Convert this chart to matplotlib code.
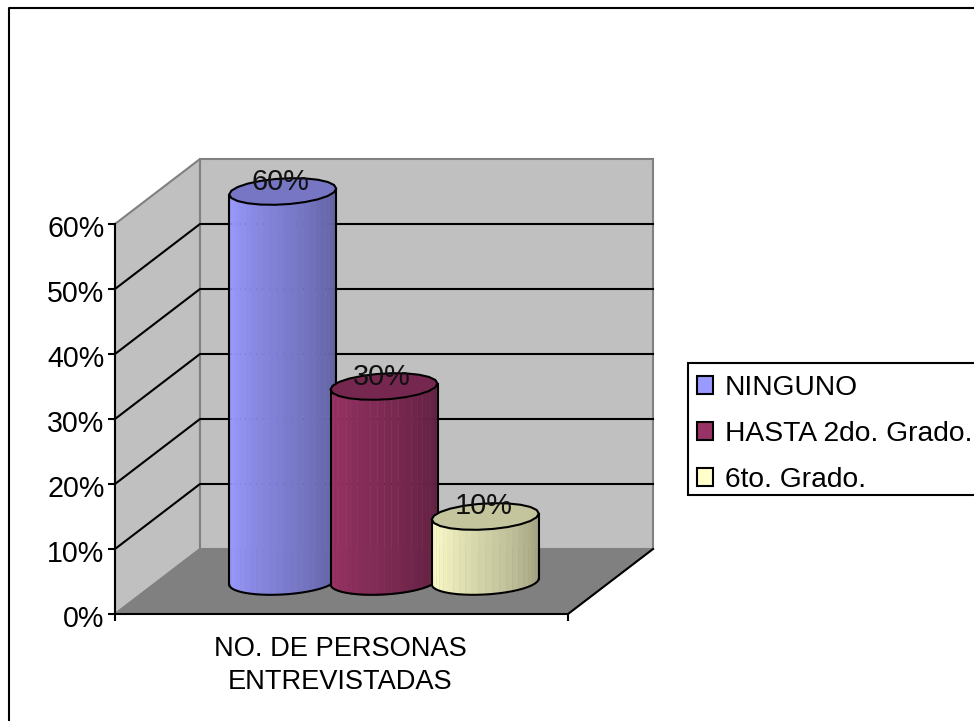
import numpy as np
import matplotlib
matplotlib.use("Agg")
import matplotlib.pyplot as plt
from matplotlib.lines import Line2D
from matplotlib.patches import Patch, Polygon, Rectangle
from matplotlib.transforms import ScaledTranslation

plt.rcParams['font.family'] = ['Liberation Sans', 'DejaVu Sans']

series = ['NINGUNO', 'HASTA 2do. Grado.', '6to. Grado.']
values = [0.60, 0.30, 0.10]
value_labels = ['60%', '30%', '10%']
colors = ['#9999FF', '#993366', '#FFFFCC']
category = 'NO. DE PERSONAS\nENTREVISTADAS'
yticks = [0.0, 0.1, 0.2, 0.3, 0.4, 0.5, 0.6]
yticklabels = ['0%', '10%', '20%', '30%', '40%', '50%', '60%']

W, H = 974, 721
L, R, B, T = 115, 568, 614, 224      # front plane, pixels
DX, DY = 85, 65                      # depth, pixels
FS = 20

fig = plt.figure(figsize=(W / 100, H / 100), dpi=100)
# outer chart border: runs off the picture at right and bottom
fig.add_artist(Line2D([9 / W, 9 / W, 1], [0, (H - 7.5) / H, (H - 7.5) / H], transform=fig.transFigure,
                      color='black', lw=1.5))

ax = fig.add_axes([L / W, (H - B) / H, (R - L) / W, (B - T) / H])
ax.set_xlim(0, 1)
ax.set_ylim(0, 0.6)
ax.patch.set_alpha(0)
for s in ['top', 'right']:
    ax.spines[s].set_visible(False)
for s in ['left', 'bottom']:
    ax.spines[s].set_linewidth(1.5)
    ax.spines[s].set_zorder(6)

px = 1 / (R - L)
py = 0.6 / (B - T)
dx, dy = DX * px, DY * py
top = yticks[-1]

def poly(pts, **kw):
    ax.add_patch(Polygon(pts, closed=True, clip_on=False, **kw))

wall = dict(fc='#C0C0C0', ec='#808080', lw=1.5, zorder=1)
poly([(0, 0), (dx, dy), (dx, top + dy), (0, top)], **wall)
poly([(dx, dy), (1 + dx, dy), (1 + dx, top + dy), (dx, top + dy)], **wall)
poly([(0, 0), (1, 0), (1 + dx, dy), (dx, dy)], fc='#808080', ec='#808080', lw=1, zorder=1.5)

for v in yticks[1:-1]:
    ax.plot([0, dx, 1 + dx], [v, v + dy, v + dy], color='black', lw=1.5, clip_on=False, zorder=2)
ax.plot([1, 1 + dx], [0, dy], color='black', lw=1.5, clip_on=False, zorder=2)

ax.set_yticks(yticks)
ax.set_yticklabels(yticklabels, fontsize=20.6)
ax.tick_params(axis='y', length=5, width=1.5, pad=2.5)
shift = ScaledTranslation(0, -2 / 100, fig.dpi_scale_trans)
for lbl in ax.get_yticklabels():
    lbl.set_transform(lbl.get_transform() + shift)
ax.set_xticks([0, 1])
ax.set_xticklabels(['', ''])
ax.tick_params(axis='x', length=5, width=1.5)
ax.text(0.497, -21.5 * py, category, ha='center', va='top', fontsize=19.6, linespacing=1.37, clip_on=False)

# cylinders
n = len(values)
step = 101.3 * px
half = 53.5 * px
ry = 13 * py
tilt = 3.0 * py
cx0 = 0.5 + dx / 2
cy0 = dy / 2
tt = np.linspace(np.pi, 2 * np.pi, 25)
for i, (v, c, lab) in enumerate(zip(values, colors, value_labels)):
    cx = cx0 + (i - (n - 1) / 2) * step
    base = np.array(matplotlib.colors.to_rgb(c))
    z = 3 + i
    xs = cx + half * np.cos(tt)
    low = ry * np.sin(tt) + tilt * np.cos(tt)
    for k in range(len(tt) - 1):
        f = (k + 0.5) / (len(tt) - 1)
        shade = 1.0 - 0.44 * max(0, f - 0.08) if f > 0.08 else 0.97
        ax.fill_between([xs[k], xs[k + 1]],
                        [cy0 + low[k], cy0 + low[k + 1]],
                        [cy0 + v + low[k], cy0 + v + low[k + 1]],
                        color=base * shade, lw=0.3, clip_on=False, zorder=z)
    for e in (0, -1):
        ax.plot([xs[e], xs[e]], [cy0 + low[e], cy0 + v + low[e]], color='black', lw=1.5,
                clip_on=False, zorder=z + .1)
    ax.plot(xs, cy0 + low, color='black', lw=1.5, clip_on=False, zorder=z + .1)
    t2 = np.linspace(0, 2 * np.pi, 23)
    poly(list(zip(cx + half * np.cos(t2), cy0 + v + ry * np.sin(t2) + tilt * np.cos(t2))),
         fc=base * 0.77, ec='black', lw=1.5, zorder=z + .2)
    ax.text(cx - 2 * px, cy0 + v + 10 * py, lab, ha='center', va='center',
            fontsize=20.8, color='#111111', clip_on=False, zorder=8)

# legend: frame runs off the picture at right, as in the source
fig.add_artist(Rectangle((687.5 / W, (H - 495) / H), 320 / W, 132 / H, transform=fig.transFigure,
                         fc='white', ec='black', lw=1.5))
handles = [Patch(fc=c, ec='black', lw=1.5) for c in colors]
fig.legend(handles, series, loc='upper left', bbox_to_anchor=(697 / W, (H - 375) / H),
           bbox_transform=fig.transFigure, fontsize=20.3, frameon=False,
           borderpad=0, labelspacing=0.71, handlelength=0.56, handleheight=0.56,
           handletextpad=0.42, borderaxespad=0)

fig.savefig('out.png', dpi=100, facecolor='white')
